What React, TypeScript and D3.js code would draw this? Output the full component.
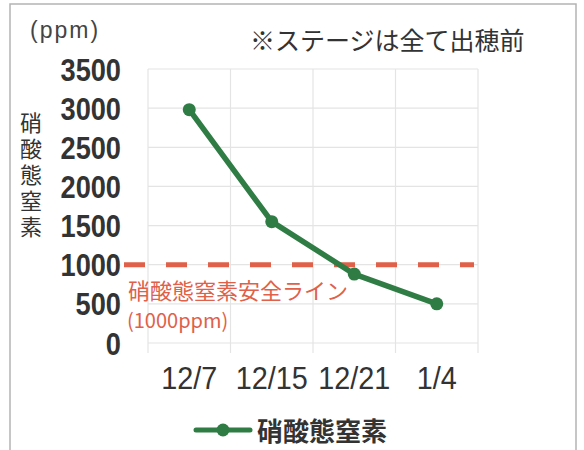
import React from "react";
import * as d3 from "d3";

// Nitrate-nitrogen readings by sampling date
const dates = ["12/7", "12/15", "12/21", "1/4"];
const nitrateValues = [2980, 1550, 880, 500];
const yTicks = [0, 500, 1000, 1500, 2000, 2500, 3000, 3500];
const safeLimit = 1000;
const seriesName = "硝酸態窒素";
const axisTitle = "硝酸態窒素";
const noteText = "※ステージは全て出穂前";
const unitText = "(ppm)";
const limitLabel = "硝酸態窒素安全ライン";
const limitValueLabel = "(1000ppm)";

const W = 584;
const H = 450;
const plot = { left: 148, right: 478, top: 69, bottom: 343 };

const GREEN = "#2f7d45";
const RED = "#e0604a";
const TEXT = "#333333";
const LATIN = "'Liberation Sans', Arial, sans-serif";
const CJK = "'Noto Sans CJK JP', 'Noto Sans', sans-serif";

export default function App() {
  const x = d3
    .scaleBand<string>()
    .domain(dates)
    .range([plot.left, plot.right])
    .paddingInner(0)
    .paddingOuter(0);
  const y = d3.scaleLinear().domain([0, 3500]).range([plot.bottom, plot.top]);
  const cx = (d: string) => (x(d) ?? 0) + x.bandwidth() / 2;

  const pts: [number, number][] = dates.map((d, i) => [cx(d), y(nitrateValues[i])]);
  const line = d3.line<[number, number]>().x((p) => p[0]).y((p) => p[1]);

  const vLines = [...dates.map((d) => x(d) ?? 0), plot.right];

  return (
    <svg
      width={W}
      height={H}
      style={{ position: "absolute", left: 0, top: 0, background: "#fff" }}
    >
      <rect x={0} y={0} width={W} height={H} fill="#fff" />
      {/* outer frame */}
      <path
        d={`M10,${H} L10,4 L576,4 L576,${H}`}
        fill="none"
        stroke="#b4b4b4"
        strokeWidth={1.5}
      />

      {/* gridlines */}
      {yTicks.map((t) => (
        <line
          key={`h${t}`}
          x1={plot.left}
          x2={plot.right}
          y1={y(t)}
          y2={y(t)}
          stroke="#e4e4e4"
          strokeWidth={1.2}
        />
      ))}
      {vLines.map((vx, i) => (
        <line
          key={`v${i}`}
          x1={vx}
          x2={vx}
          y1={plot.top}
          y2={plot.bottom + 10}
          stroke="#e4e4e4"
          strokeWidth={1.2}
        />
      ))}

      {/* y tick labels (condensed) */}
      {yTicks.map((t) => (
        <text
          key={`yt${t}`}
          transform={`translate(121,${y(t)}) scale(0.85,1)`}
          dy="0.36em"
          textAnchor="end"
          fontFamily={LATIN}
          fontWeight="bold"
          fontSize={32}
          fill={TEXT}
        >
          {t}
        </text>
      ))}

      {/* x tick labels (condensed) */}
      {dates.map((d) => (
        <text
          key={`xt${d}`}
          transform={`translate(${cx(d)},389) scale(0.9,1)`}
          textAnchor="middle"
          fontFamily={LATIN}
          fontSize={32}
          fill={TEXT}
        >
          {d}
        </text>
      ))}

      {/* unit and note */}
      <text x={30} y={38} fontFamily={LATIN} fontSize={23} letterSpacing={2} fill="#444">
        {unitText}
      </text>
      <text x={250} y={50} fontFamily={CJK} fontSize={25} fill={TEXT}>
        {noteText}
      </text>

      {/* vertical axis title, set top-to-bottom */}
      <text
        x={31}
        y={112}
        fontFamily={CJK}
        fontSize={22}
        letterSpacing={4}
        fill={TEXT}
        style={{ writingMode: "vertical-rl", textOrientation: "upright" }}
      >
        {axisTitle}
      </text>

      {/* safety limit */}
      <line
        x1={124}
        x2={474}
        y1={y(safeLimit)}
        y2={y(safeLimit)}
        stroke={RED}
        strokeWidth={5}
        strokeDasharray="21 21"
      />
      <text x={128} y={299} fontFamily={CJK} fontSize={22} fill={RED}>
        {limitLabel}
      </text>
      <text x={127} y={328} fontFamily={CJK} fontSize={20} fill={RED}>
        {limitValueLabel}
      </text>

      {/* series */}
      <path
        d={line(pts) ?? ""}
        fill="none"
        stroke={GREEN}
        strokeWidth={5.5}
        strokeLinejoin="round"
        strokeLinecap="round"
      />
      {pts.map((p, i) => (
        <circle key={`pt${i}`} cx={p[0]} cy={p[1]} r={6.5} fill={GREEN} />
      ))}

      {/* legend */}
      <line x1={196} x2={250} y1={430} y2={430} stroke={GREEN} strokeWidth={5} strokeLinecap="round" />
      <circle cx={223} cy={430} r={6.5} fill={GREEN} />
      <text x={257} y={441} fontFamily={CJK} fontWeight="bold" fontSize={26} fill={TEXT}>
        {seriesName}
      </text>
    </svg>
  );
}
